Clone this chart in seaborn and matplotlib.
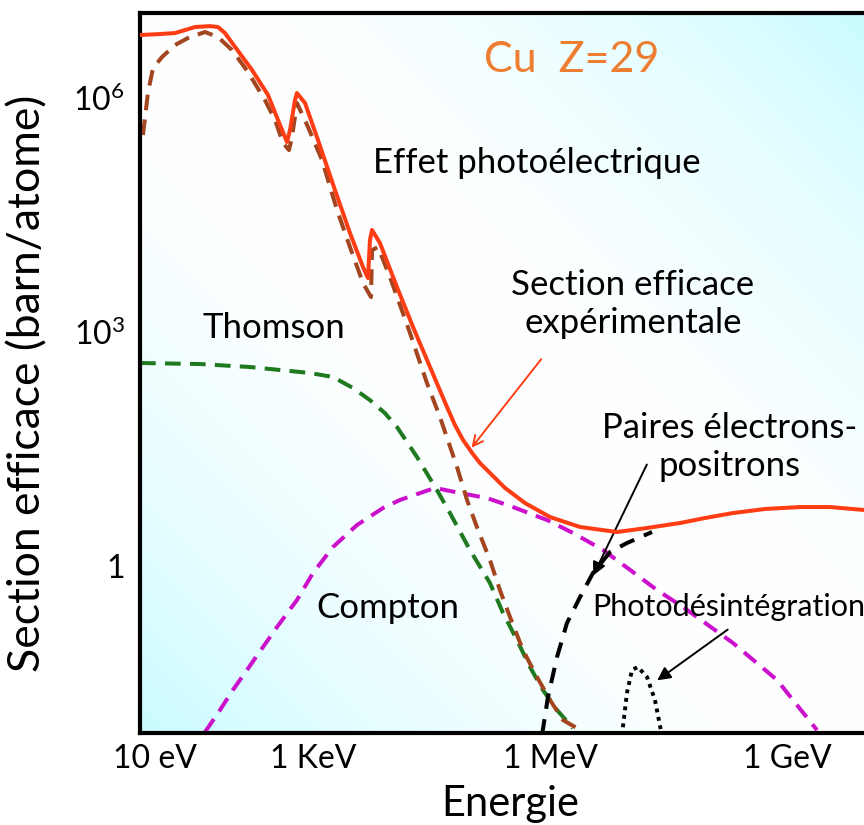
import numpy as np
import pandas as pd
import matplotlib
matplotlib.use("Agg")
import matplotlib.pyplot as plt
from matplotlib.transforms import ScaledTranslation
import seaborn as sns

sns.set_theme(style="white")
plt.rcParams['font.family'] = ['Lato', 'DejaVu Sans']
plt.rcParams['mathtext.default'] = 'regular'
plt.rcParams['text.color'] = 'black'

# ==========================================
# Data (energy in eV, cross section in barn/atom)
# ==========================================
total_E = [10, 17.9, 27.7, 37.2, 49.7, 76.9, 97.1, 119, 160, 262,
           417, 558, 726, 793, 916, 970, 1227, 1791, 2938, 4550,
           6653, 7691, 8147, 8650, 1.09e4, 1.79e4, 2.86e4, 4.69e4, 7.69e4, 9.7e4,
           1.23e5, 1.6e5, 2.01e5, 2.86e5, 4.17e5, 7.46e5, 1.55e6, 3.72e6, 1.09e7, 2.62e7,
           6.84e7, 1.42e8, 3.21e8, 8.15e8, 2.26e9, 5.42e9, 1.46e10]
total_sigma = [9.16e6, 9.42e6, 9.7e6, 1.06e7, 1.16e7, 1.19e7, 1.16e7, 9.7e6, 6.43e6, 3.26e6,
               1.56e6, 7.45e5, 3.89e5, 5.55e5, 1.34e6, 1.65e6, 1.23e6, 4.12e5, 9.42e4, 2.65e4,
               9.7e3, 7.0e3, 2.15e4, 2.9e4, 1.97e4, 5.38e3, 1.65e3, 507, 156, 91.5,
               58.7, 40.1, 29.8, 20.9, 14.3, 9.16, 6.05, 4.51, 3.89, 4.38,
               5.07, 5.88, 6.81, 7.67, 8.13, 8.13, 7.45]

photo_E = [10.9, 12.6, 14.6, 19.0, 27.7, 40.5, 66.5, 97.1, 146, 233, 382, 512, 646,
           769, 840, 970, 1340, 2014, 3119, 4550, 6653, 8395, 8650, 1.03e4, 1.46e4,
           2.62e4, 4.29e4, 6.27e4, 1.03e5, 1.38e5, 1.84e5, 2.69e5, 3.6e5, 4.83e5,
           7.05e5, 1.06e6, 1.55e6, 2.26e6, 3.4e6]
photo_sigma = [4.78e5, 1.65e6, 3.45e6, 4.78e6, 6.81e6, 8.38e6, 1.0e7, 8.63e6, 5.88e6,
               3.07e6, 1.34e6, 7.45e5, 3.78e5, 3.07e5, 4.51e5, 1.23e6, 6.05e5, 2.29e5,
               5.22e4, 1.75e4, 6.05e3, 4.0e3, 1.6e4, 1.75e4, 7.23e3, 1.38e3, 316, 116,
               26.5, 10.0, 4.51, 1.70, 0.70, 0.316, 0.119, 0.0538, 0.0273, 0.0151, 0.0119]

thomson_E = [10, 57.4, 247, 793, 1419, 2773, 4966, 8147, 1.26e4, 1.79e4, 3.21e4,
             5.74e4, 8.39e4, 1.5e5, 2.69e5, 3.94e5, 5.92e5, 8.65e5, 1.26e6, 1.9e6, 3.03e6]
thomson_sigma = [571, 554, 507, 451, 425, 378, 273, 191, 130, 86.3, 35.6,
                 13.4, 6.81, 2.29, 0.863, 0.356, 0.160, 0.0723, 0.0367, 0.0203, 0.0119]

compton_E = [66.5, 103, 150, 226, 542, 970, 1549, 2773, 5585, 1.19e4, 1.95e4, 3.21e4,
             5.42e4, 1.12e5, 2.47e5, 5.27e5, 1.42e6, 3.03e6, 7.26e6, 1.6e7, 3.5e7,
             7.46e7, 3.21e8, 1.16e9, 3.72e9]
compton_sigma = [0.0106, 0.0203, 0.0367, 0.0662, 0.235, 0.522, 1.16, 2.5, 4.78, 7.89,
                 10.0, 11.9, 14.3, 12.3, 10.6, 8.13, 5.54, 3.78, 2.29, 1.27, 0.702,
                 0.425, 0.147, 0.0492, 0.0112]

pair_E = [1.23e6, 1.46e6, 1.9e6, 2.54e6, 3.72e6, 5.42e6, 8.89e6, 1.46e7, 3.03e7]
pair_sigma = [0.0098, 0.0298, 0.097, 0.265, 0.570, 1.16, 2.15, 2.81, 3.89]

photodis_E = [1.26e7, 1.46e7, 1.69e7, 2.01e7, 2.62e7, 3.3e7, 4.05e7]
photodis_sigma = [0.0095, 0.0336, 0.0662, 0.0723, 0.0538, 0.0273, 0.0095]

x_tick_values = [10.0 ** k for k in range(1, 11)]
x_tick_labels = ['10 eV', '', '1 KeV', '', '', '1 MeV', '', '', '1 GeV', '']
y_tick_values = [10.0 ** k for k in range(-1, 7)]
y_tick_labels = ['', '1', '', '', r'$10^3$', '', '', r'$10^6$']

# ==========================================
# Figure
# ==========================================
W, H = 864, 825
fig = plt.figure(figsize=(W / 100, H / 100), dpi=100)
rect = [140 / W, 92 / H, 724 / W, 720 / H]

# background gradient (cyan corners bottom-left / top-right, white diagonal)
bg = fig.add_axes(rect, zorder=0)
uu, vv = np.meshgrid(np.linspace(0, 1, 400), np.linspace(0, 1, 400))
w = np.abs(uu + vv - 1) ** 1.8
cyan = np.array([0.79, 0.985, 1.0])
img = 1 - w[..., None] * (1 - cyan)
bg.imshow(img, extent=[0, 1, 0, 1], origin='lower', aspect='auto', interpolation='bilinear')
bg.set_axis_off()

ax = fig.add_axes(rect, zorder=1)
ax.set_facecolor('none')

lw = 2.9
dash = (0, (3.9, 2.3))
sns.lineplot(x=thomson_E, y=thomson_sigma, ax=ax, color='#1f7a1f', lw=lw,
             linestyle=dash, estimator=None, sort=False)
sns.lineplot(x=compton_E, y=compton_sigma, ax=ax, color='#cc11cc', lw=lw,
             linestyle=dash, estimator=None, sort=False)
sns.lineplot(x=photo_E, y=photo_sigma, ax=ax, color='#a3461f', lw=lw,
             linestyle=dash, estimator=None, sort=False)
sns.lineplot(x=pair_E, y=pair_sigma, ax=ax, color='black', lw=lw,
             linestyle=(0, (3.9, 2.6)), estimator=None, sort=False)
sns.lineplot(x=photodis_E, y=photodis_sigma, ax=ax, color='black', lw=2.8,
             linestyle=(0, (1.0, 1.2)), estimator=None, sort=False)
sns.lineplot(x=total_E, y=total_sigma, ax=ax, color='#ff3d14', lw=lw,
             estimator=None, sort=False, zorder=5)

ax.set_xscale('log')
ax.set_yscale('log')
ax.set_xlim(10, 10 ** 10.165)
ax.set_ylim(10 ** -1.987, 10 ** 7.244)
ax.minorticks_off()
ax.set_xticks(x_tick_values)
ax.set_xticklabels(x_tick_labels)
ax.set_yticks(y_tick_values)
ax.set_yticklabels(y_tick_labels)

for side in ['left', 'bottom', 'top']:
    ax.spines[side].set_color('black')
    ax.spines[side].set_linewidth(3.0)
ax.spines['right'].set_visible(False)

ax.tick_params(axis='x', direction='in', length=16.5, width=2.8, color='black',
               labelsize=23, pad=8, labelcolor='black')
ax.tick_params(axis='y', direction='in', length=19.5, width=2.8, color='black',
               labelsize=23, pad=11, labelcolor='black')
ax.tick_params(which='minor', length=0)

for lab in ax.get_xticklabels():
    lab.set_transform(lab.get_transform() + ScaledTranslation(0.15, 0, fig.dpi_scale_trans))
for lab in ax.get_yticklabels():
    lab.set_transform(lab.get_transform() + ScaledTranslation(0, 0.12, fig.dpi_scale_trans))

ax.set_xlabel('Energie', fontsize=30, color='black')
ax.set_ylabel('Section efficace (barn/atome)', fontsize=32, color='black')
ax.xaxis.set_label_coords(0.511, -0.072)
ax.yaxis.set_label_coords(-0.126, 0.485)

# ==========================================
# Annotations
# ==========================================
txt = 25
ax.text(2.9e6, 4.4e6, 'Cu  Z=29', color='#ed7d31', fontsize=31, ha='center', va='center')
ax.text(1.06e6, 2.1e5, 'Effet photoélectrique', fontsize=txt, ha='center', va='center')
ax.text(1.74e7, 3260, 'Section efficace\nexpérimentale', fontsize=txt, ha='center',
        va='center', linespacing=1.25)
ax.text(497, 1600, 'Thomson', fontsize=txt, ha='center', va='center')
ax.text(2.9e8, 48, 'Paires électrons-\npositrons', fontsize=txt, ha='center',
        va='center', linespacing=1.25)
ax.text(1.38e4, 0.41, 'Compton', fontsize=txt, ha='center', va='center')
ax.text(5.3e6, 0.425, 'Photodésintégration', fontsize=22, ha='left', va='center')

ax.annotate('', xy=(1.5e5, 44), xytext=(1.26e6, 681),
            arrowprops=dict(arrowstyle='->', color='#ff3d14', lw=1.4, mutation_scale=18))
ax.annotate('', xy=(5.27e6, 1.0), xytext=(2.7e7, 30.7),
            arrowprops=dict(arrowstyle='-|>', color='black', lw=1.4, mutation_scale=20))
ax.annotate('', xy=(3.3e7, 0.0464), xytext=(2.94e8, 0.229),
            arrowprops=dict(arrowstyle='-|>', color='black', lw=1.4, mutation_scale=20))

fig.savefig('out.png', dpi=100)
